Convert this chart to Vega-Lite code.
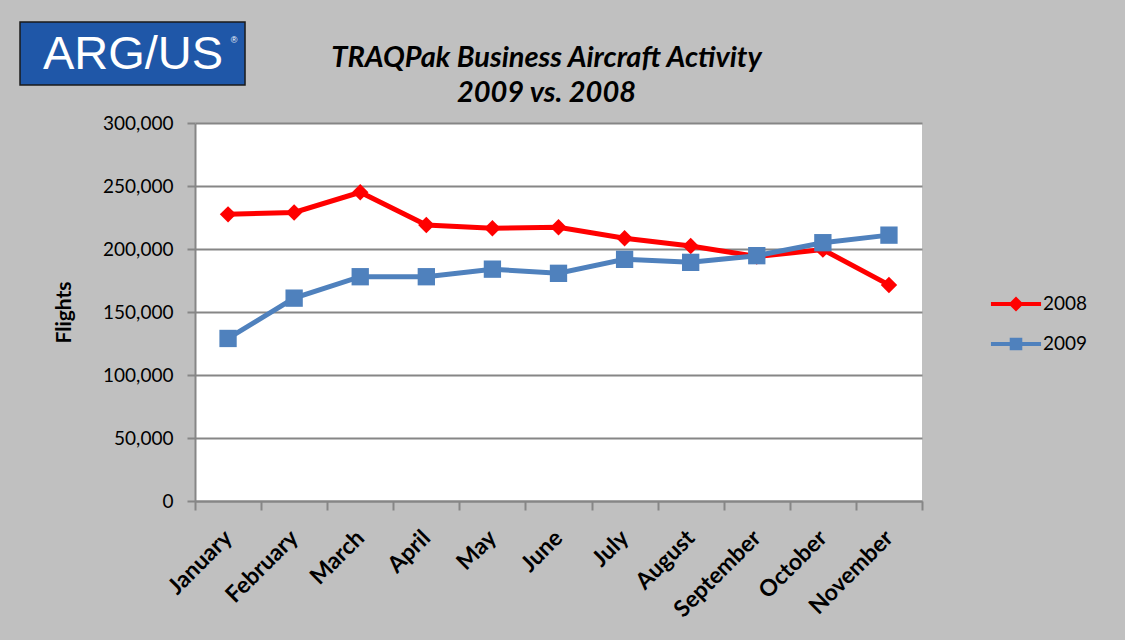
{
  "$schema": "https://vega.github.io/schema/vega-lite/v6.json",
  "width": 727,
  "height": 378,
  "autosize": {"type": "none"},
  "padding": {"left": 195, "top": 123, "right": 203, "bottom": 139},
  "background": "#c0c0c0",
  "title": {
    "text": ["TRAQPak Business Aircraft Activity", "2009 vs. 2008"],
    "font": "Lato",
    "fontSize": 29,
    "fontStyle": "italic",
    "fontWeight": "bold",
    "lineHeight": 35,
    "color": "#000000",
    "anchor": "middle",
    "dx": -12,
    "dy": 101,
    "offset": 14
  },
  "datasets": {
    "flights": [
      {"month": "January", "year": "2008", "flights": 227500},
      {"month": "February", "year": "2008", "flights": 229000},
      {"month": "March", "year": "2008", "flights": 245000},
      {"month": "April", "year": "2008", "flights": 219000},
      {"month": "May", "year": "2008", "flights": 216500},
      {"month": "June", "year": "2008", "flights": 217200},
      {"month": "July", "year": "2008", "flights": 208500},
      {"month": "August", "year": "2008", "flights": 202400},
      {"month": "September", "year": "2008", "flights": 194000},
      {"month": "October", "year": "2008", "flights": 199500},
      {"month": "November", "year": "2008", "flights": 171500},
      {"month": "January", "year": "2009", "flights": 129000},
      {"month": "February", "year": "2009", "flights": 161000},
      {"month": "March", "year": "2009", "flights": 178000},
      {"month": "April", "year": "2009", "flights": 178000},
      {"month": "May", "year": "2009", "flights": 184000},
      {"month": "June", "year": "2009", "flights": 180700},
      {"month": "July", "year": "2009", "flights": 191800},
      {"month": "August", "year": "2009", "flights": 189400},
      {"month": "September", "year": "2009", "flights": 194700},
      {"month": "October", "year": "2009", "flights": 205000},
      {"month": "November", "year": "2009", "flights": 211000}
    ],
    "logo": [{"name": "ARG/US", "mark": "®"}]
  },
  "layer": [
    {
      "data": {"name": "flights"},
      "encoding": {
        "x": {
          "field": "month",
          "type": "nominal",
          "sort": null,
          "bandPosition": 0.5,
          "scale": {"type": "band", "paddingInner": 0, "paddingOuter": 0},
          "axis": {
            "title": null,
            "tickBand": "extent",
            "tickSize": 9,
            "tickWidth": 2,
            "tickColor": "#868686",
            "domainColor": "#868686",
            "domainWidth": 2,
            "grid": false,
            "labelAngle": -45,
            "labelAlign": "right",
            "labelBaseline": "middle",
            "labelFont": "Lato",
            "labelFontSize": 23,
            "labelFontWeight": "bold",
            "labelColor": "#000000",
            "labelPadding": 24
          }
        },
        "y": {
          "field": "flights",
          "type": "quantitative",
          "scale": {"domain": [0, 300000], "nice": false},
          "axis": {
            "title": "Flights",
            "titleFont": "Lato",
            "titleFontSize": 21,
            "titleFontWeight": "bold",
            "titleColor": "#000000",
            "titlePadding": 28,
            "values": [0, 50000, 100000, 150000, 200000, 250000, 300000],
            "format": ",.0f",
            "labelFont": "Lato",
            "labelFontSize": 19,
            "labelColor": "#000000",
            "labelPadding": 14,
            "tickSize": 8,
            "tickWidth": 2,
            "tickColor": "#868686",
            "domainColor": "#868686",
            "domainWidth": 2,
            "grid": true,
            "gridColor": "#868686",
            "gridWidth": 2
          }
        },
        "color": {
          "field": "year",
          "type": "nominal",
          "scale": {"domain": ["2008", "2009"], "range": ["#ff0000", "#4f81bd"]},
          "legend": {
            "title": null,
            "orient": "none",
            "legendX": 806,
            "legendY": 166,
            "labelFont": "Lato",
            "labelFontSize": 19,
            "labelColor": "#000000",
            "labelOffset": 12,
            "symbolSize": 900,
            "rowPadding": 15,
            "encode": {
              "symbols": {
                "update": {
                  "shape": {"signal": "datum.value === '2008' ? 'M-1.67,-0.14H1.67V0.14H-1.67Z M0,-0.5L0.5,0L0,0.5L-0.5,0Z' : 'M-1.67,-0.14H1.67V0.14H-1.67Z M-0.42,-0.42H0.42V0.42H-0.42Z'"},
                  "fill": {"signal": "datum.value === '2008' ? '#ff0000' : '#4f81bd'"},
                  "stroke": {"value": "transparent"},
                  "strokeWidth": {"value": 0},
                  "opacity": {"value": 1}
                }
              }
            }
          }
        }
      },
      "layer": [
        {"mark": {"type": "line", "strokeWidth": 5}},
        {
          "transform": [{"filter": "datum.year === '2008'"}],
          "mark": {"type": "point", "shape": "diamond", "filled": true, "opacity": 1, "size": 270}
        },
        {
          "transform": [{"filter": "datum.year === '2009'"}],
          "mark": {"type": "point", "shape": "square", "filled": true, "opacity": 1, "size": 300}
        }
      ]
    },
    {
      "data": {"name": "logo"},
      "encoding": {
        "x": {"datum": -0.0853, "type": "quantitative", "scale": {"domain": [0, 1], "nice": false, "zero": false}, "axis": null},
        "y": {"datum": 1.184, "type": "quantitative", "scale": {"domain": [0, 1], "nice": false, "zero": false}, "axis": null}
      },
      "layer": [
        {
          "mark": {"type": "rect", "fill": "#1f57a8", "stroke": "#1a1a1a", "strokeWidth": 1.5},
          "encoding": {
            "x": {"datum": -0.2407, "type": "quantitative", "scale": {"domain": [0, 1], "nice": false, "zero": false}, "axis": null},
            "x2": {"datum": 0.0688},
            "y": {"datum": 1.267, "type": "quantitative", "scale": {"domain": [0, 1], "nice": false, "zero": false}, "axis": null},
            "y2": {"datum": 1.1005}
          }
        },
        {
          "mark": {"type": "text", "font": "Liberation Sans", "fontSize": 47, "fill": "#ffffff", "align": "center", "baseline": "middle", "dy": 2},
          "encoding": {"text": {"field": "name"}}
        },
        {
          "mark": {"type": "text", "font": "Liberation Sans", "fontSize": 9, "fill": "#ffffff", "align": "center", "baseline": "middle"},
          "encoding": {
            "text": {"field": "mark"},
            "x": {"datum": 0.0536, "type": "quantitative", "scale": {"domain": [0, 1], "nice": false, "zero": false}, "axis": null},
            "y": {"datum": 1.2196, "type": "quantitative", "scale": {"domain": [0, 1], "nice": false, "zero": false}, "axis": null}
          }
        }
      ]
    }
  ],
  "resolve": {"scale": {"x": "independent", "y": "independent"}},
  "config": {
    "view": {"fill": "#ffffff", "stroke": null}
  }
}
